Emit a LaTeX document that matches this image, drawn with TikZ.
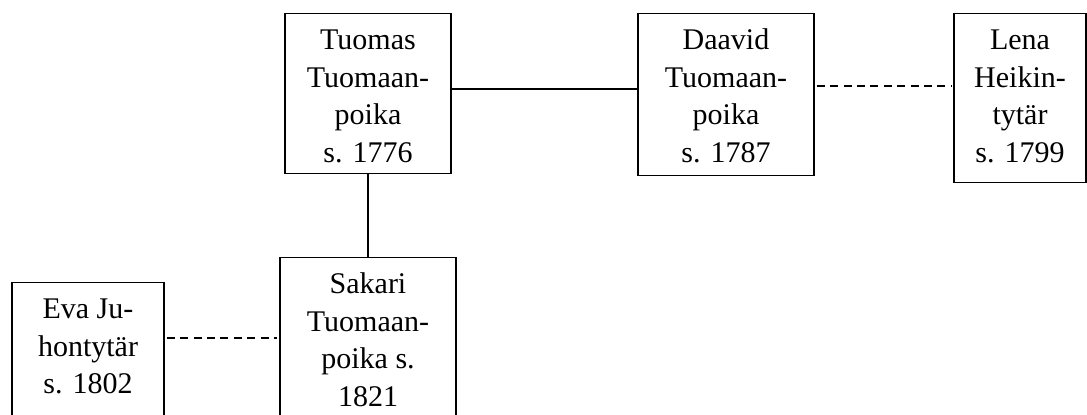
\documentclass[tikz,border=0pt]{standalone}
\usepackage{fontspec}
\setmainfont{Liberation Serif}
\usepackage{tikz}

\begin{document}
\begin{tikzpicture}[
    person box/.style={draw,line width=0.7pt,anchor=north,align=center,inner xsep=2pt,inner ysep=5.5pt,
      text height=68.75pt,text depth=0pt,font=\fontsize{15pt}{18.75pt}\selectfont},
    union line/.style={line width=0.8pt},
    partner line/.style={line width=0.8pt,dash pattern=on 4pt off 2.7pt,shorten <=1pt,shorten >=1pt},
  ]
  \useasboundingbox (0,0) rectangle (543.5pt,-207pt);
  \clip (0,0) rectangle (543.5pt,-207pt);

  \node[person box,minimum width=83pt] (person-tuomas) at (184pt,-6.5pt) {Tuomas\\Tuomaan-\\poika\\s. 1776};
  \node[person box,minimum width=88pt,text depth=1pt] (person-daavid) at (363pt,-6.5pt) {Daavid\\Tuomaan-\\poika\\s. 1787};
  \node[person box,minimum width=66pt,text depth=4.5pt] (person-lena) at (510pt,-6.5pt) {Lena\\Heikin-\\tytär\\s. 1799};
  \node[person box,minimum width=88pt] (person-sakari) at (184pt,-128.5pt) {Sakari\\Tuomaan-\\poika s.\\1821};
  \node[person box,minimum width=76pt,text height=50pt,text depth=20pt] (person-eva) at (44pt,-141pt) {Eva Ju-\\hontytär\\s. 1802};

  \draw[union line] ([yshift=-38pt]person-tuomas.north east) -- ([yshift=-38pt]person-tuomas.north east -| person-daavid.west);
  \draw[partner line] ([yshift=-36.5pt]person-daavid.north east) -- ([yshift=-36.5pt]person-daavid.north east -| person-lena.west);
  \draw[union line] (person-tuomas.south) -- (person-sakari.north);
  \draw[partner line] ([yshift=-28pt]person-eva.north east) -- ([yshift=-28pt]person-eva.north east -| person-sakari.west);
\end{tikzpicture}
\end{document}
